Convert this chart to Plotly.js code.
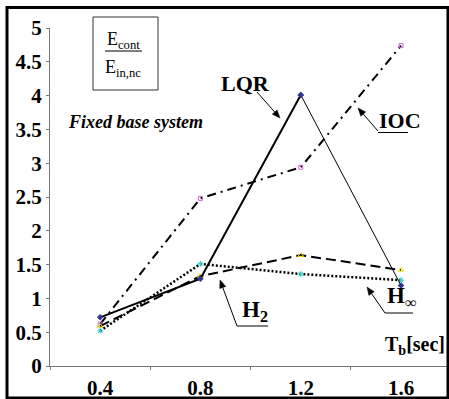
<!DOCTYPE html>
<html><head><meta charset="utf-8">
<script src="https://cdn.plot.ly/plotly-3.0.1.min.js"></script>
<style>html,body{margin:0;padding:0;background:#fff}#c{width:449px;height:399px}</style>
</head><body><div id="c"></div>
<script>
const periods = [0.4, 0.8, 1.2, 1.6];
const lqr  = [0.72, 1.29, 4.01, 1.19];
const ioc  = [0.62, 2.48, 2.94, 4.74];
const h2   = [0.59, 1.33, 1.64, 1.42];
const hinf = [0.52, 1.51, 1.36, 1.27];
const xTicks = [0.4, 0.8, 1.2, 1.6];
const yTicks = [0, 0.5, 1, 1.5, 2, 2.5, 3, 3.5, 4, 4.5, 5];

const W = 449, H = 399, L = 50, R = 2, T = 28, B = 33;
const pw = W - L - R, ph = H - T - B;
const px = v => (v - L) / pw;
const py = v => (H - B - v) / ph;
const serif = '"Liberation Serif", "Times New Roman", Times, serif';

const traces = [
  {x: periods, y: ioc, mode: 'lines+markers', line: {color: '#000', width: 2, dash: '9px,5px,2px,5px'},
   marker: {symbol: 'square-open', size: 4, color: '#cc66cc'}},
  {x: periods, y: h2, mode: 'lines+markers', line: {color: '#000', width: 2, dash: '10px,5px'},
   marker: {symbol: 'triangle-up-open', size: 5, color: '#e8e000'}},
  {x: periods, y: hinf, mode: 'lines+markers', line: {color: '#000', width: 2.5, dash: '2px,2px'},
   marker: {symbol: 'asterisk-open', size: 5, color: '#33cccc', line: {width: 1, color: '#33cccc'}}},
  {x: periods.slice(0, 3), y: lqr.slice(0, 3), mode: 'lines+markers', line: {color: '#000', width: 2},
   marker: {symbol: 'diamond', size: 5, color: '#333399'}},
  {x: periods.slice(2), y: lqr.slice(2), mode: 'lines+markers', line: {color: '#000', width: 1},
   marker: {symbol: 'diamond', size: 5, color: '#333399'}}
];

const txt = (x, y, text, size, extra) => Object.assign({xref: 'paper', yref: 'paper', x: px(x), y: py(y),
  xanchor: 'center', yanchor: 'middle',
  text: text, showarrow: false, font: {family: serif, size: size, color: '#000'}}, extra || {});
const seg = (x0, y0, x1, y1, w) => ({type: 'line', xref: 'paper', yref: 'paper',
  x0: px(x0), y0: py(y0), x1: px(x1), y1: py(y1), line: {color: '#000', width: w || 1}});
const arrowShapes = (x0, y0, x1, y1) => {
  const dx = x1 - x0, dy = y1 - y0, len = Math.hypot(dx, dy), ux = dx / len, uy = dy / len;
  const hl = 8, hw = 3.2;
  const bx = x1 - ux * hl, by = y1 - uy * hl;
  const p = [[x1, y1], [bx - uy * hw, by + ux * hw], [bx + uy * hw, by - ux * hw]];
  const path = 'M' + p.map(q => px(q[0]) + ',' + py(q[1])).join(' L') + ' Z';
  return [seg(x0, y0, bx, by),
    {type: 'path', xref: 'paper', yref: 'paper', path: path, fillcolor: '#000', line: {color: '#000', width: 0.5}}];
};

const layout = {
  width: W, height: H, margin: {l: L, r: R, t: T, b: B},
  paper_bgcolor: '#fff', plot_bgcolor: '#fff', showlegend: false,
  xaxis: {range: [0.2, 0.2 + pw / 250.75], tickvals: xTicks, ticktext: xTicks.map(v => '<b>' + v.toFixed(1) + '</b>'),
    ticks: '', showgrid: false, zeroline: false, showline: true, linecolor: '#777', linewidth: 1,
    tickfont: {family: serif, size: 21, color: '#000'}, ticklabelstandoff: 3,
    minor: {tick0: 0.2, dtick: 0.4, ticks: 'outside', ticklen: 3, tickcolor: '#777', showgrid: false}},
  yaxis: {range: [0, 5], tickvals: yTicks, ticktext: yTicks.map(v => '<b>' + v + '</b>'),
    ticks: 'outside', ticklen: 3, tickcolor: '#777', showgrid: false, zeroline: false,
    showline: true, linecolor: '#777', linewidth: 1,
    tickfont: {family: serif, size: 21, color: '#000'}},
  shapes: [
    {type: 'rect', xref: 'paper', yref: 'paper', x0: px(7), y0: py(7.5), x1: px(448), y1: py(398),
     line: {color: '#000', width: 3}},
    {type: 'rect', xref: 'paper', yref: 'paper', x0: px(93), y0: py(17), x1: px(158), y1: py(90),
     line: {color: '#333', width: 1}},
    seg(105, 51, 142, 51, 1.2),
    seg(378, 132.5, 408, 132.5),
    seg(237, 326, 268, 326),
    seg(385, 313, 413, 313),
    ...arrowShapes(257, 92, 280, 118),
    ...arrowShapes(378, 131, 358, 108),
    ...arrowShapes(237, 326, 220, 280),
    ...arrowShapes(385, 313, 367, 287)
  ],
  annotations: [
    txt(123, 41, 'E<sub>cont</sub>', 18),
    txt(123, 68, 'E<sub>in,nc</sub>', 18),
    txt(135, 122, '<b><i>Fixed base system</i></b>', 18),
    txt(245, 83, '<b>LQR</b>', 22),
    txt(400, 121, '<b>IOC</b>', 22),
    txt(255, 311, '<b>H<sub>2</sub></b>', 23),
    txt(401, 297, '<b>H<sub>∞</sub></b>', 23),
    txt(447, 345, '<b>T<sub>b</sub>[sec]</b>', 20, {xanchor: 'right'})
  ]
};
Plotly.newPlot('c', traces, layout, {staticPlot: true, displayModeBar: false});
</script></body></html>
